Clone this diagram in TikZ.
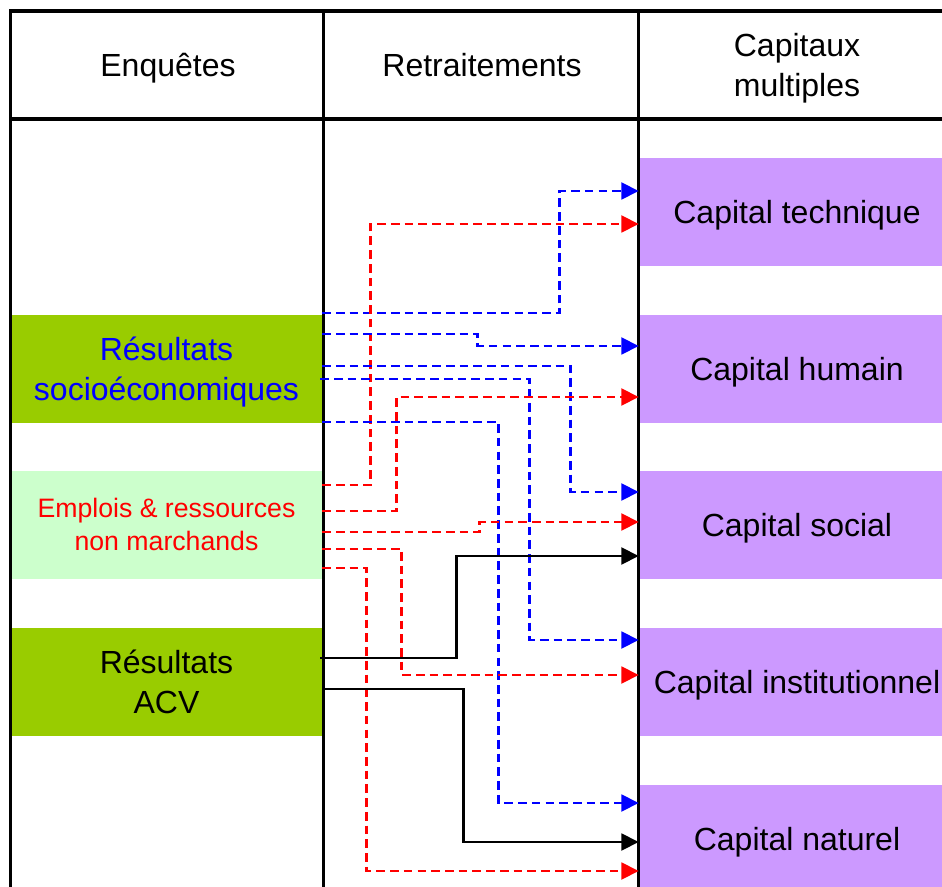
\documentclass[tikz,border=0pt]{standalone}
\usepackage{fontspec}
\setmainfont{Liberation Sans}
\usetikzlibrary{arrows.meta,calc}
\definecolor{olivegreen}{HTML}{99CC00}
\definecolor{palegreen}{HTML}{CCFFCC}
\definecolor{lilac}{HTML}{CC99FF}
\newcommand\bigtop{\rule{0pt}{21.7pt}}
\newcommand\bigbot{\rule[-5.1pt]{0pt}{5.1pt}}
\newcommand\smalltop{\rule{0pt}{18.1pt}}
\newcommand\smallbot{\rule[-4.25pt]{0pt}{4.25pt}}
\begin{document}
\begin{tikzpicture}[x=0.75pt,y=-0.75pt,
  gridline/.style={line width=2.5pt,black},
  bigtext/.style={font=\fontsize{24}{30}\selectfont},
  smalltext/.style={font=\fontsize{20}{24.75}\selectfont},
  oneline/.style={text height=21.7pt,text depth=5.1pt},
  leftbox/.style={rectangle,inner sep=0pt,minimum width=233.25pt,minimum height=81pt,align=center,bigtext},
  rightbox/.style={rectangle,fill=lilac,inner sep=0pt,minimum width=235.5pt,minimum height=81pt,align=center,bigtext,oneline},
  headtext/.style={align=center,inner sep=0pt,bigtext},
  tipstyle/.style={-{Triangle[length=13pt,width=12.5pt]}},
  bluelink/.style={tipstyle,blue,line width=2.2pt,dash pattern=on 6.5pt off 3.8pt},
  redlink/.style={tipstyle,red,line width=2.2pt,dash pattern=on 6.5pt off 3.8pt},
  blacklink/.style={tipstyle,black,line width=2.2pt}]
\useasboundingbox (0,0) rectangle (942,887);
% boxes
\node[leftbox,fill=olivegreen,text=blue] (soc) at (166.5,369) {\bigtop Résultats\\socioéconomiques\bigbot};
\node[leftbox,fill=palegreen,text=red,smalltext] (emp) at (166.5,525) {\smalltop Emplois \& ressources\\non marchands\smallbot};
\node[leftbox,fill=olivegreen] (acv) at (166.5,682) {\bigtop Résultats\\ACV\bigbot};
\node[rightbox] (tech) at (797,212) {Capital technique};
\node[rightbox] (hum) at (797,369) {Capital humain};
\node[rightbox] (socl) at (797,525) {Capital social};
\node[rightbox] (inst) at (797,682) {Capital institutionnel};
\node[rightbox] (nat) at (797,839) {Capital naturel};
% table
\draw[gridline] (10.5,887) -- (10.5,11) -- (942,11);
\draw[gridline] (10.5,119) -- (942,119);
\draw[gridline] (323.5,11) -- (323.5,887);
\draw[gridline] (638.5,11) -- (638.5,887);
\node[headtext,oneline] (h1) at (168,65) {Enquêtes};
\node[headtext,oneline] (h2) at (482,65) {Retraitements};
\node[headtext] (h3) at (797,65) {\bigtop Capitaux\\multiples\bigbot};
% connectors
\draw[bluelink] ($(soc.east)+(0,-56)$) -| ($(tech.west)+(-80,-21)$) -- ($(tech.west)+(-1,-21)$);
\draw[redlink] ($(emp.east)+(0,-40)$) -| ($(tech.west)+(-269,12)$) -- ($(tech.west)+(-1,12)$);
\draw[bluelink] ($(soc.east)+(0,-35)$) -| ($(hum.west)+(-162,-23)$) -- ($(hum.west)+(-1,-23)$);
\draw[bluelink] ($(soc.east)+(0,-3)$) -| ($(socl.west)+(-69,-33)$) -- ($(socl.west)+(-1,-33)$);
\draw[bluelink] ($(soc.east)+(-2,10)$) -| ($(inst.west)+(-110,-42)$) -- ($(inst.west)+(-1,-42)$);
\draw[redlink] ($(emp.east)+(0,-14)$) -| ($(hum.west)+(-243,28)$) -- ($(hum.west)+(-1,28)$);
\draw[bluelink] ($(soc.east)+(0,53)$) -| ($(nat.west)+(-141,-36)$) -- ($(nat.west)+(-1,-36)$);
\draw[redlink] ($(emp.east)+(0,7)$) -| ($(socl.west)+(-160,-3)$) -- ($(socl.west)+(-1,-3)$);
\draw[blacklink] ($(acv.east)+(-2,-24)$) -| ($(socl.west)+(-183,31)$) -- ($(socl.west)+(-1,31)$);
\draw[redlink] ($(emp.east)+(0,24)$) -| ($(inst.west)+(-238,-7)$) -- ($(inst.west)+(-1,-7)$);
\draw[redlink] ($(emp.east)+(0,43)$) -| ($(nat.west)+(-273,32)$) -- ($(nat.west)+(-1,32)$);
\draw[blacklink] ($(acv.east)+(0,7)$) -| ($(nat.west)+(-176,3)$) -- ($(nat.west)+(-1,3)$);
\end{tikzpicture}
\end{document}
